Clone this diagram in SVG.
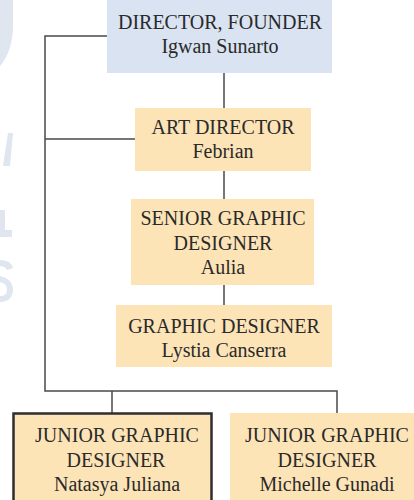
<svg xmlns="http://www.w3.org/2000/svg" width="414" height="500" viewBox="0 0 414 500">
<style>
.t{font-family:"Liberation Serif","Times New Roman",serif;font-size:20px;fill:#2a2a2a;text-anchor:middle}
.blue{fill:#d9e3f1}
.org{fill:#fde4b7}
.ln{stroke:#4a4a4a;stroke-width:1.5;fill:none}
.wm{fill:#dfe6ef}
</style>
<rect width="414" height="500" fill="#ffffff"/>
<g id="watermark">
<path class="wm" d="M0,0 L13,0 L13,28 Q12,52 0,66 Z"/>
<path class="wm" d="M8,133 L13,133 L10,166 L3,166 Z"/>
<rect class="wm" x="0" y="210" width="5" height="20"/>
<rect class="wm" x="0" y="230" width="12" height="7"/>
<path class="wm" d="M0,260 Q11,260 13,268 L7,270 Q5,266 0,266 Z M0,276 Q13,279 13,290 Q12,302 0,302 L0,296 Q7,296 7,290 Q7,283 0,282 Z"/>
</g>
<g id="connectors">
<path class="ln" d="M224,73 V108 M224,171 V199 M224,285 V305"/>
<path class="ln" d="M107,36 H45 V391 H337 V413 M45,139 H135 M112,391 V413"/>
</g>
<g id="director">
<rect class="blue" x="107" y="0" width="225" height="73"/>
<text class="t" x="220" y="29">DIRECTOR, FOUNDER</text>
<text class="t" x="220" y="53">Igwan Sunarto</text>
</g>
<g id="art-director">
<rect class="org" x="135" y="108" width="176" height="63"/>
<text class="t" x="223" y="134">ART DIRECTOR</text>
<text class="t" x="223" y="158">Febrian</text>
</g>
<g id="senior-graphic-designer">
<rect class="org" x="131" y="199" width="183" height="86"/>
<text class="t" x="223" y="225">SENIOR GRAPHIC</text>
<text class="t" x="223" y="250">DESIGNER</text>
<text class="t" x="223" y="274">Aulia</text>
</g>
<g id="graphic-designer">
<rect class="org" x="116" y="305" width="216" height="62"/>
<text class="t" x="224" y="333">GRAPHIC DESIGNER</text>
<text class="t" x="224" y="357">Lystia Canserra</text>
</g>
<g id="junior-1">
<rect class="org" x="13.5" y="413.5" width="198" height="90" stroke="#2e2e2e" stroke-width="2.5"/>
<text class="t" x="117" y="442">JUNIOR GRAPHIC</text>
<text class="t" x="116" y="467">DESIGNER</text>
<text class="t" x="117" y="491">Natasya Juliana</text>
</g>
<g id="junior-2">
<rect class="org" x="230" y="413" width="190" height="90"/>
<text class="t" x="327" y="442">JUNIOR GRAPHIC</text>
<text class="t" x="327" y="467">DESIGNER</text>
<text class="t" x="327" y="491">Michelle Gunadi</text>
</g>
</svg>
